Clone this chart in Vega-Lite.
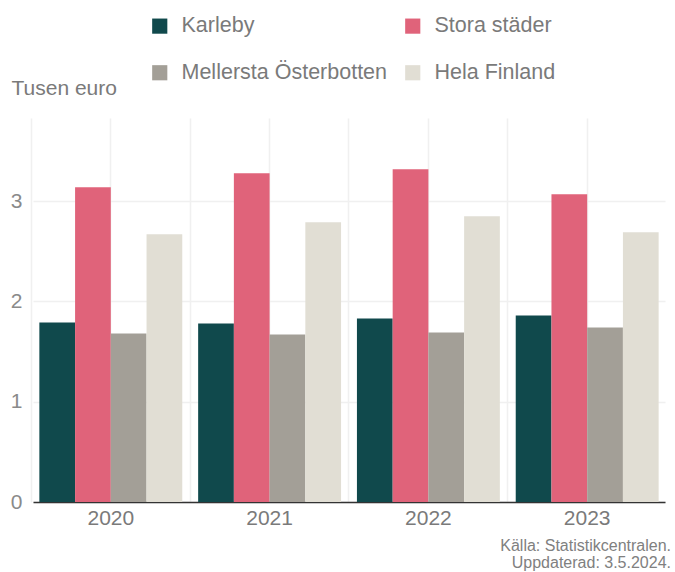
{
  "$schema": "https://vega.github.io/schema/vega-lite/v6.json",
  "width": 632,
  "height": 384,
  "autosize": {"type": "none"},
  "padding": {"left": 33, "top": 118, "right": 10, "bottom": 70},
  "background": "white",
  "config": {
    "font": "Liberation Sans",
    "view": {"stroke": null}
  },
  "title": {
    "text": ["Källa: Statistikcentralen.", "Uppdaterad: 3.5.2024."],
    "orient": "bottom",
    "anchor": "end",
    "align": "right",
    "fontSize": 16,
    "fontWeight": "normal",
    "color": "#808080",
    "lineHeight": 17,
    "offset": 10,
    "dx": 6
  },
  "data": {
    "values": [
      {"year": "2020", "region": "Karleby", "value": 1.79},
      {"year": "2020", "region": "Stora städer", "value": 3.14},
      {"year": "2020", "region": "Mellersta Österbotten", "value": 1.68},
      {"year": "2020", "region": "Hela Finland", "value": 2.67},
      {"year": "2021", "region": "Karleby", "value": 1.78},
      {"year": "2021", "region": "Stora städer", "value": 3.28},
      {"year": "2021", "region": "Mellersta Österbotten", "value": 1.67},
      {"year": "2021", "region": "Hela Finland", "value": 2.79},
      {"year": "2022", "region": "Karleby", "value": 1.83},
      {"year": "2022", "region": "Stora städer", "value": 3.32},
      {"year": "2022", "region": "Mellersta Österbotten", "value": 1.69},
      {"year": "2022", "region": "Hela Finland", "value": 2.85},
      {"year": "2023", "region": "Karleby", "value": 1.86},
      {"year": "2023", "region": "Stora städer", "value": 3.07},
      {"year": "2023", "region": "Mellersta Österbotten", "value": 1.74},
      {"year": "2023", "region": "Hela Finland", "value": 2.69}
    ]
  },
  "layer": [
    {
      "mark": {"type": "bar", "opacity": 0},
      "encoding": {
        "x": {
          "field": "year", "type": "nominal",
          "scale": {"paddingInner": 0.1, "paddingOuter": 0.04},
          "axis": {"orient": "bottom", "labels": false, "ticks": false, "domain": false, "title": null, "grid": true, "gridColor": "#f0f0f0", "gridWidth": 1.5, "bandPosition": -0.056}
        },
        "y": {
          "field": "value", "type": "quantitative",
          "scale": {"domain": [0, 3.83], "nice": false},
          "axis": {
            "values": [0, 1, 2, 3],
            "format": "d",
            "title": "Tusen euro",
            "titleAngle": 0,
            "titleAlign": "left",
            "titleBaseline": "middle",
            "titleX": -22,
            "titleY": -30,
            "titleFontSize": 21,
            "titleFontWeight": "normal",
            "titleColor": "#7a7a7a",
            "labelFontSize": 21,
            "labelColor": "#8a8a8a",
            "labelPadding": 11,
            "ticks": false,
            "domain": false,
            "grid": true,
            "gridColor": "#f0f0f0",
            "gridWidth": 1.5
          }
        }
      }
    },
    {
      "mark": {"type": "bar"},
      "encoding": {
        "x": {
          "field": "year", "type": "nominal",
          "scale": {"paddingInner": 0.1, "paddingOuter": 0.04},
          "axis": {"orient": "bottom", "title": null, "labelAngle": 0, "labelFontSize": 21, "labelColor": "#7a7a7a", "labelPadding": 5, "ticks": false, "domainColor": "#333333", "domainWidth": 1.5, "grid": true, "gridColor": "#f0f0f0", "gridWidth": 1.5, "bandPosition": 0.5}
        },
        "xOffset": {"field": "region", "type": "nominal", "sort": ["Karleby", "Stora städer", "Mellersta Österbotten", "Hela Finland"], "scale": {"paddingInner": 0, "paddingOuter": 0}},
        "y": {
          "field": "value", "type": "quantitative",
          "scale": {"domain": [0, 3.83], "nice": false}
        },
        "color": {
          "field": "region", "type": "nominal",
          "sort": ["Karleby", "Stora städer", "Mellersta Österbotten", "Hela Finland"],
          "scale": {"domain": ["Karleby", "Stora städer", "Mellersta Österbotten", "Hela Finland"], "range": ["#10494C", "#E0637A", "#A39F97", "#E1DED4"]},
          "legend": {
            "title": null,
            "orient": "none",
            "legendX": 116,
            "legendY": -103,
            "direction": "horizontal",
            "columns": 2,
            "symbolType": "square",
            "symbolSize": 230,
            "symbolStrokeWidth": 0,
            "labelFontSize": 21.5,
            "labelColor": "#7a7a7a",
            "labelOffset": 11,
            "labelLimit": 300,
            "columnPadding": 14,
            "rowPadding": 24
          }
        }
      }
    }
  ],
  "resolve": {"axis": {"x": "independent"}}
}
